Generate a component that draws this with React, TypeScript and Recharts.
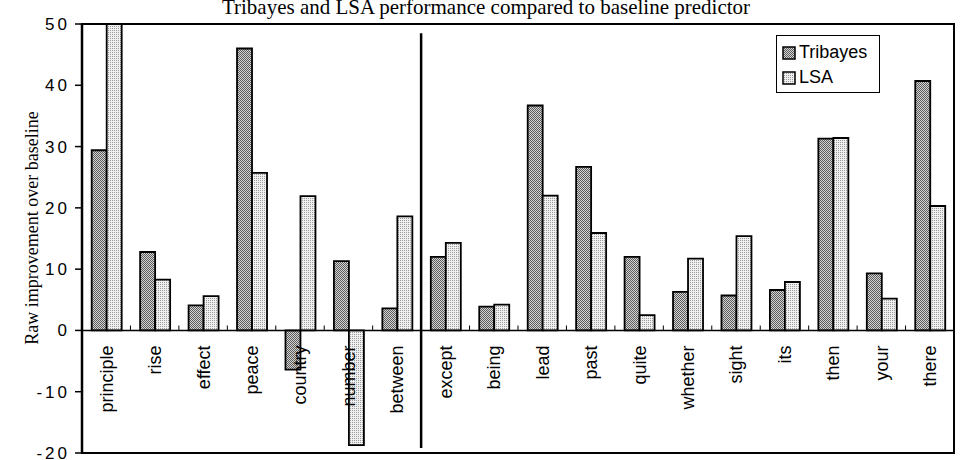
import React from "react";
import {
  BarChart,
  Bar,
  XAxis,
  YAxis,
  Legend,
  ReferenceLine,
} from "recharts";

const CATEGORIES = [
  "principle", "rise", "effect", "peace", "country", "number", "between",
  "except", "being", "lead", "past", "quite", "whether", "sight", "its", "then", "your", "there",
];
const SERIES_NAMES = ["Tribayes", "LSA"];
const TRIBAYES = [29.4, 12.8, 4.1, 46.0, -6.4, 11.3, 3.6, 12.0, 3.9, 36.7, 26.7, 12.0, 6.3, 5.7, 6.6, 31.3, 9.3, 40.7];
const LSA = [50, 8.3, 5.6, 25.7, 21.9, -18.7, 18.6, 14.3, 4.2, 22.0, 15.9, 2.5, 11.7, 15.4, 7.9, 31.4, 5.2, 20.3];
const Y_TICKS = [-20, -10, 0, 10, 20, 30, 40, 50];
const GROUP_SPLIT = 7; // boundary between the two word groups

const data = CATEGORIES.map((name, i) => ({ name, tribayes: TRIBAYES[i], lsa: LSA[i] }));
const boundaries = CATEGORIES.slice(1).map((_, i) => i + 1).filter((b) => b !== GROUP_SPLIT);

const W = 960;
const H = 460;
const MARGIN = { top: 24, right: 6, bottom: 6, left: 0 };
const Y_AXIS_W = 82;
const X_AXIS_H = 1;
const PLOT_X = MARGIN.left + Y_AXIS_W;
const PLOT_W = W - MARGIN.left - MARGIN.right - Y_AXIS_W;
const PLOT_H = H - MARGIN.top - MARGIN.bottom - X_AXIS_H;
const Y_MIN = Y_TICKS[0];
const Y_MAX = Y_TICKS[Y_TICKS.length - 1];
const ZERO_OFFSET = (PLOT_H * (0 - Y_MIN)) / (Y_MAX - Y_MIN);

const SANS = "'Liberation Sans', Arial, sans-serif";
const SERIF = "'Liberation Serif', 'Times New Roman', serif";

function CategoryTick({ x, y, payload }: any) {
  const top = y - ZERO_OFFSET + 15;
  return (
    <text
      x={x}
      y={top}
      transform={`rotate(-90 ${x} ${top})`}
      textAnchor="end"
      dy="0.36em"
      fontFamily={SANS}
      fontSize={18}
      fill="#000"
    >
      {payload.value}
    </text>
  );
}

function LegendBox({ payload }: any) {
  const items = [...(payload || [])].sort(
    (a: any, b: any) => SERIES_NAMES.indexOf(a.value) - SERIES_NAMES.indexOf(b.value)
  );
  return (
    <div
      style={{
        border: "1.5px solid #000",
        background: "#fff",
        padding: "4px 6px 2px 5px",
        boxSizing: "border-box",
        width: 104,
        height: 58,
      }}
    >
      {items.map((entry: any) => (
        <div key={entry.value} style={{ display: "flex", alignItems: "center", height: 25 }}>
          <svg width={14} height={14} style={{ marginRight: 3 }}>
            <rect x={1} y={1} width={12} height={12} fill={entry.color} stroke="#000" strokeWidth={1.5} />
          </svg>
          <span style={{ fontFamily: SANS, fontSize: 18, color: "#000" }}>{entry.value}</span>
        </div>
      ))}
    </div>
  );
}

export default function App() {
  return (
    <div style={{ position: "absolute", left: 0, top: 0, width: W, height: H, background: "#fff" }}>
      <svg width={0} height={0} style={{ position: "absolute" }}>
        <defs>
          <pattern id="patTri" width={2} height={2} patternUnits="userSpaceOnUse">
            <rect width={2} height={2} fill="#d4d4d4" />
            <rect x={0} y={0} width={1} height={1} fill="#5c5c5c" />
            <rect x={1} y={1} width={1} height={1} fill="#5c5c5c" />
          </pattern>
          <pattern id="patLsa" width={2} height={2} patternUnits="userSpaceOnUse">
            <rect width={2} height={2} fill="#f0f0f0" />
            <rect x={0} y={0} width={1} height={1} fill="#9a9a9a" />
          </pattern>
        </defs>
      </svg>

      <BarChart width={W} height={H} data={data} margin={MARGIN} barCategoryGap="20%" barGap={0}>
        <XAxis
          xAxisId="cat"
          dataKey="name"
          height={X_AXIS_H}
          axisLine={false}
          tickLine={false}
          tickSize={0}
          tickMargin={0}
          interval={0}
          tick={<CategoryTick />}
        />
        <XAxis
          xAxisId="num"
          type="number"
          dataKey={() => 0}
          domain={[0, CATEGORIES.length]}
          allowDataOverflow
          hide
        />
        <YAxis
          domain={[Y_MIN, Y_MAX]}
          ticks={Y_TICKS}
          interval={0}
          width={Y_AXIS_W}
          allowDataOverflow
          axisLine={{ stroke: "#000", strokeWidth: 2.5 }}
          tickLine={{ stroke: "#000", strokeWidth: 1.5 }}
          tickSize={7}
          tickMargin={5}
          tick={{ fill: "#000", fontFamily: SANS, fontSize: 17, letterSpacing: 3 }}
        />
        <Legend
          layout="vertical"
          align="center"
          verticalAlign="middle"
          content={<LegendBox />}
          wrapperStyle={{ left: 776, top: 35, width: 104, height: 58 }}
        />
        <Bar xAxisId="cat" dataKey="tribayes" name="Tribayes" fill="url(#patTri)" stroke="#000" strokeWidth={1.8} isAnimationActive={false} />
        <Bar xAxisId="cat" dataKey="lsa" name="LSA" fill="url(#patLsa)" stroke="#000" strokeWidth={1.8} isAnimationActive={false} />
        <ReferenceLine xAxisId="cat" y={0} stroke="#000" strokeWidth={1.5} />
        {boundaries.map((b) => (
          <ReferenceLine
            key={b}
            xAxisId="num"
            segment={[{ x: b, y: 0 }, { x: b, y: 0.8 }]}
            stroke="#000"
            strokeWidth={1}
          />
        ))}
        <ReferenceLine
          xAxisId="num"
          segment={[{ x: GROUP_SPLIT, y: 48.5 }, { x: GROUP_SPLIT, y: -19.2 }]}
          stroke="#000"
          strokeWidth={2.5}
        />
      </BarChart>

      <svg width={W} height={H} style={{ position: "absolute", left: 0, top: 0, pointerEvents: "none" }}>
        {/* plot frame */}
        <rect x={PLOT_X} y={MARGIN.top} width={PLOT_W} height={PLOT_H} fill="none" stroke="#000" strokeWidth={2} />
        <text x={486} y={14} textAnchor="middle" fontFamily={SERIF} fontSize={21} fill="#000">
          Tribayes and LSA performance compared to baseline predictor
        </text>
        <text
          x={32}
          y={228}
          transform="rotate(-90 32 228)"
          textAnchor="middle"
          dominantBaseline="central"
          fontFamily={SERIF}
          fontSize={18}
          fill="#000"
        >
          Raw improvement over baseline
        </text>
      </svg>
    </div>
  );
}
